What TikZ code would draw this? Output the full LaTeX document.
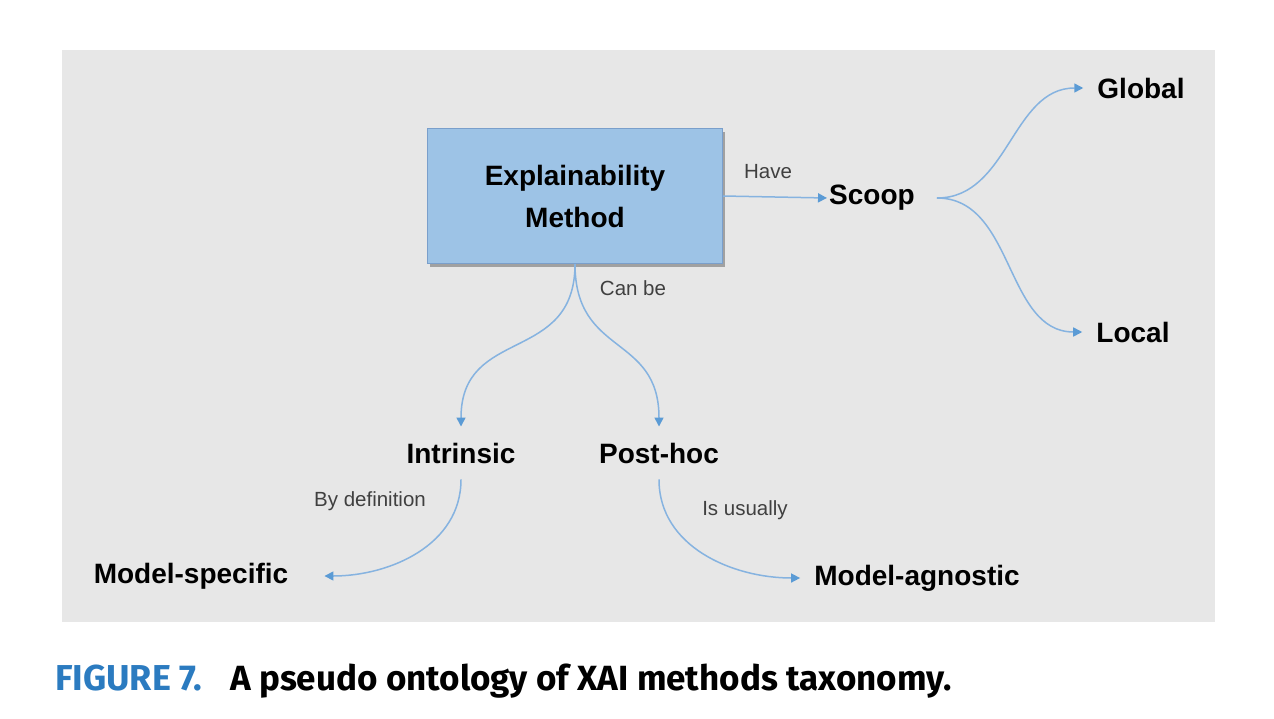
\documentclass[tikz,border=0pt]{standalone}
\usepackage{fontspec}
\setmainfont{Liberation Sans}
\newfontfamily\capfont{Fira Sans}
\usetikzlibrary{arrows.meta,shadows}
\definecolor{panelgray}{HTML}{E7E7E7}
\definecolor{kastenblau}{HTML}{9DC3E6}
\definecolor{randblau}{HTML}{7A9FCB}
\definecolor{linieblau}{HTML}{86B3E0}
\definecolor{spitzeblau}{HTML}{5B9BD5}
\definecolor{labelgray}{HTML}{404040}
\definecolor{capblau}{HTML}{2B7BC0}
\begin{document}
\begin{tikzpicture}[x=1pt,y=-1pt,
  begriff/.style={font=\fontsize{28}{42}\selectfont\bfseries, inner sep=2pt},
  relation/.style={font=\fontsize{20.5}{24}\selectfont, text=labelgray, inner sep=0pt},
  pfeil/.style={draw=linieblau, line width=1.5pt,
    -{Triangle[length=9pt,width=9pt,color=spitzeblau]}}]
  % Seite und Hintergrund
  \useasboundingbox (0,0) rectangle (1274,718);
  \fill[white] (0,0) rectangle (1274,718);
  \fill[panelgray] (62,50) rectangle (1215,622);
  % Kasten und Begriffe
  \node [begriff, draw=randblau, line width=1pt, fill=kastenblau, align=center,
    minimum width=295pt, minimum height=135pt,
    drop shadow={shadow xshift=2pt, shadow yshift=-3pt, fill=black, opacity=.3}]
    (methode) at (575,196) {Explainability\\Method};
  \node [begriff] (scoop) at (872,198) {Scoop};
  \node [begriff] (global) at (1141,88) {Global};
  \node [begriff] (local) at (1133,332) {Local};
  \node [begriff] (intrinsic) at (461,453) {Intrinsic};
  \node [begriff] (posthoc) at (659,453) {Post-hoc};
  \node [begriff] (modspec) at (191,576) {Model-specific};
  \node [begriff] (modagn) at (917,578) {Model-agnostic};
  % Verbindungen
  \draw [pfeil] (methode.east) -- (scoop.west);
  \draw [pfeil] ([xshift=20pt]scoop.east) to [out=0, in=180] ([xshift=-12pt]global.west);
  \draw [pfeil] ([xshift=20pt]scoop.east) to [out=0, in=180] ([xshift=-12pt]local.west);
  \draw [pfeil] (methode.south) to [out=-90, in=90, looseness=1.3] ([yshift=14pt]intrinsic.north);
  \draw [pfeil] (methode.south) to [out=-90, in=90, looseness=1.3] ([yshift=14pt]posthoc.north);
  \draw [pfeil] ([yshift=-14pt]intrinsic.south) to [out=-90, in=0] ([xshift=34pt]modspec.east);
  \draw [pfeil] ([yshift=-14pt]posthoc.south) to [out=-90, in=180] ([xshift=-12pt]modagn.west);
  % Beschriftungen
  \node [relation] (have) at (768,172) {Have};
  \node [relation] (canbe) at (633,288) {Can be};
  \node [relation] (bydef) at (370,501) {By definition};
  \node [relation] (usually) at (745,510) {Is usually};
  % Bildunterschrift
  \node [anchor=base west, inner sep=0pt, text=capblau, font=\capfont\fontsize{36}{40}\selectfont\bfseries]
    (fignr) at (55,690) {FIGURE 7.};
  \node [anchor=base west, inner sep=0pt, font=\capfont\fontsize{35}{40}\selectfont\bfseries]
    (caption) at (230,690) {A pseudo ontology of XAI methods taxonomy.};
\end{tikzpicture}
\end{document}
